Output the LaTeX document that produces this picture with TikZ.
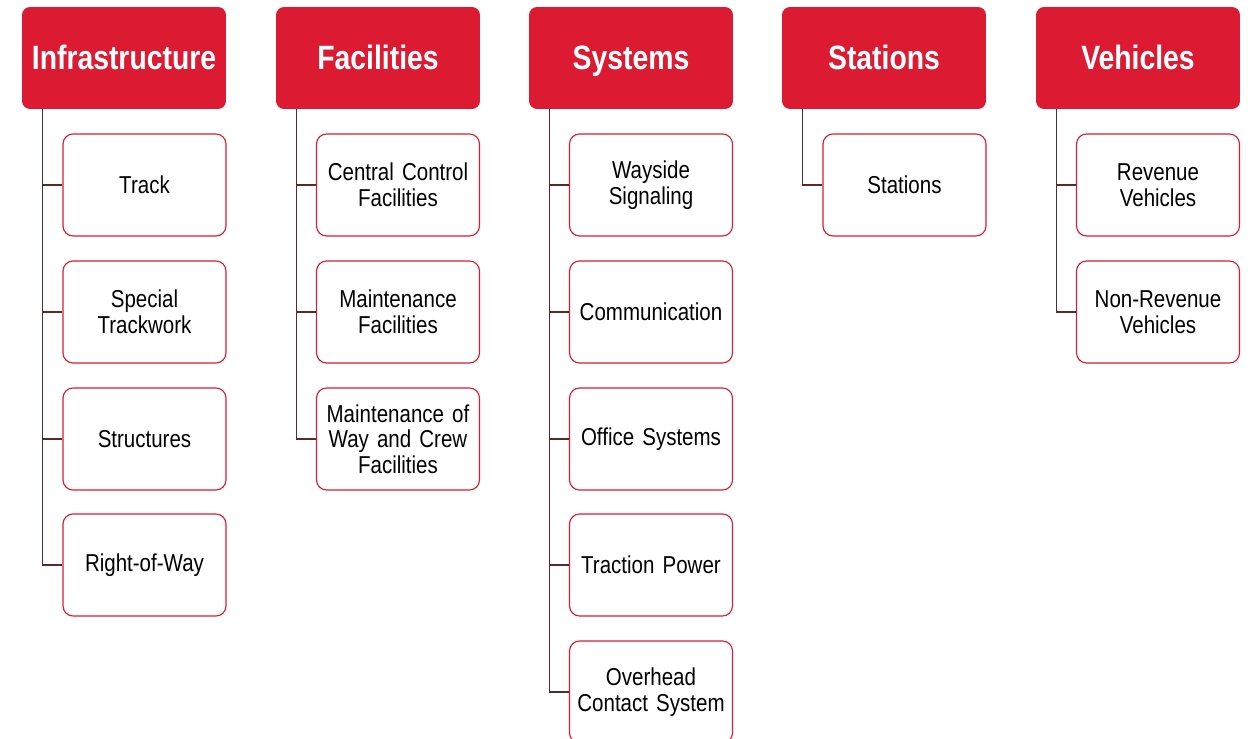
\documentclass[tikz,border=0pt]{standalone}
\usepackage{fontspec}
\setmainfont{Liberation Sans}[FakeStretch=0.84, WordSpace=0.7]
\definecolor{headred}{HTML}{DC1B33}
\definecolor{linkbrown}{HTML}{5A2A2A}
\begin{document}
\begin{tikzpicture}[
        x=0.02cm, y=-0.02cm,
        head/.style={rectangle, rounded corners=0.16cm, fill=headred, text=white, minimum width=4.08cm, minimum height=2.04cm, text height=17.2pt, text depth=4pt, font=\fontsize{19.2}{22}\selectfont\bfseries, inner sep=0pt},
        item/.style={rectangle, rounded corners=0.2cm, draw=headred, line width=0.65pt, fill=white, minimum width=3.26cm, minimum height=2.04cm, text width=3.2cm, font=\fontsize{13.9}{14.6}\selectfont, align=center, inner sep=0pt},
        link/.style={draw=linkbrown, line width=0.9pt}
    ]
    \useasboundingbox (0,0) rectangle (1251,739);

    % headers
    \node[head] (infra) at (124,58) {Infrastructure};
    \node[head] (facil) at (378,58) {Facilities};
    \node[head] (syst) at (631,58) {Systems};
    \node[head] (stat) at (884,58) {Stations};
    \node[head] (vehic) at (1138,58) {Vehicles};

    % infrastructure
    \node[item] (track) at (144.5,185) {Track};
    \node[item] (special) at (144.5,312) {Special\\Trackwork};
    \node[item] (struct) at (144.5,439) {Structures};
    \node[item] (row) at (144.5,565) {Right-of-Way};

    % facilities
    \node[item] (central) at (398,185) {Central Control\\Facilities};
    \node[item] (maint) at (398,312) {Maintenance\\Facilities};
    \node[item] (mow) at (398,439) {Maintenance of\\Way and Crew\\Facilities};

    % systems
    \node[item] (wayside) at (651,185) {Wayside\\Signaling};
    \node[item] (comm) at (651,312) {Communication};
    \node[item] (office) at (651,439) {Office Systems};
    \node[item] (traction) at (651,565) {Traction Power};
    \node[item] (ocs) at (651,692) {Overhead\\Contact System};

    % stations
    \node[item] (stations) at (904.5,185) {Stations};

    % vehicles
    \node[item] (revenue) at (1158,185) {Revenue\\Vehicles};
    \node[item] (nonrev) at (1158,312) {Non-Revenue\\Vehicles};

    % tree links
    \draw[link] ([xshift=0.42cm]infra.south west) |- (track.west);
    \draw[link] ([xshift=0.42cm]infra.south west) |- (special.west);
    \draw[link] ([xshift=0.42cm]infra.south west) |- (struct.west);
    \draw[link] ([xshift=0.42cm]infra.south west) |- (row.west);

    \draw[link] ([xshift=0.42cm]facil.south west) |- (central.west);
    \draw[link] ([xshift=0.42cm]facil.south west) |- (maint.west);
    \draw[link] ([xshift=0.42cm]facil.south west) |- (mow.west);

    \draw[link] ([xshift=0.42cm]syst.south west) |- (wayside.west);
    \draw[link] ([xshift=0.42cm]syst.south west) |- (comm.west);
    \draw[link] ([xshift=0.42cm]syst.south west) |- (office.west);
    \draw[link] ([xshift=0.42cm]syst.south west) |- (traction.west);
    \draw[link] ([xshift=0.42cm]syst.south west) |- (ocs.west);

    \draw[link] ([xshift=0.42cm]stat.south west) |- (stations.west);

    \draw[link] ([xshift=0.42cm]vehic.south west) |- (revenue.west);
    \draw[link] ([xshift=0.42cm]vehic.south west) |- (nonrev.west);

\end{tikzpicture}
\end{document}
